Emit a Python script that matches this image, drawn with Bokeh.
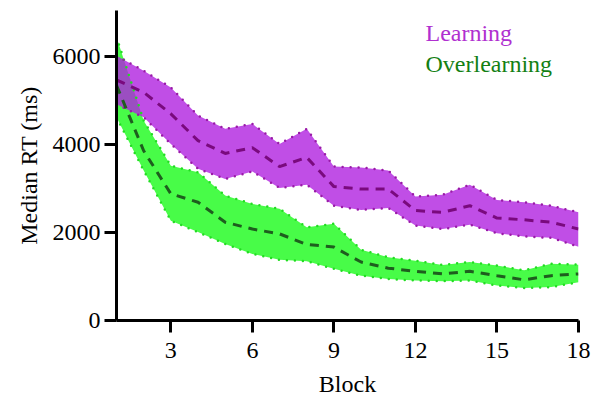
from bokeh.plotting import figure
from bokeh.models import Range1d, FixedTicker, Label, ColumnDataSource
from bokeh.embed import file_html
from bokeh.resources import INLINE

blocks = list(range(1, 19))

learn_mean = [5470, 5190, 4700, 4090, 3800, 3930, 3500, 3710, 3045, 2990, 2990, 2500, 2460, 2610, 2330, 2290, 2235, 2080]
learn_upper = [6020, 5680, 5300, 4660, 4360, 4470, 4015, 4360, 3500, 3480, 3410, 2820, 2860, 3090, 2740, 2690, 2610, 2460]
learn_lower = [4920, 4620, 4015, 3450, 3220, 3390, 3015, 3090, 2610, 2515, 2560, 2160, 2080, 2180, 1985, 1910, 1880, 1680]

over_mean = [5350, 3860, 2880, 2690, 2235, 2080, 1970, 1730, 1670, 1330, 1190, 1120, 1060, 1120, 1020, 925, 1020, 1060]
over_upper = [6450, 4545, 3520, 3370, 2840, 2650, 2540, 2120, 2200, 1610, 1440, 1360, 1265, 1330, 1250, 1140, 1290, 1270]
over_lower = [4620, 3410, 2270, 2010, 1740, 1515, 1380, 1350, 1175, 1020, 945, 910, 895, 910, 795, 740, 760, 870]

x_ticks = [3, 6, 9, 12, 15, 18]
y_ticks = [0, 2000, 4000, 6000]

FONT = "Liberation Serif"

src = ColumnDataSource(dict(x=blocks, lm=learn_mean, lu=learn_upper, ll=learn_lower,
                            om=over_mean, ou=over_upper, ol=over_lower))

p = figure(width=591, height=402, output_backend="svg", toolbar_location=None,
           x_range=Range1d(1, 18), y_range=Range1d(0, 7050),
           min_border_left=116, min_border_right=13, min_border_top=10, min_border_bottom=82)
p.outline_line_color = None
p.grid.visible = False
p.background_fill_color = "white"
p.border_fill_color = "white"

# Overlearning band (drawn first)
p.varea(x="x", y1="ol", y2="ou", source=src, fill_color="#48fc48", fill_alpha=1.0)
# Learning band on top, slightly transparent
p.varea(x="x", y1="ll", y2="lu", source=src, fill_color="#b022e0", fill_alpha=0.8)

# dotted edges
for col, color in (("ou", "#22dd22"), ("ol", "#22dd22")):
    p.line(x="x", y=col, source=src, line_color=color, line_width=2.5,
           line_dash="0 8", line_cap="round")
for col, color in (("lu", "#9a1aa8"), ("ll", "#9a1aa8")):
    p.line(x="x", y=col, source=src, line_color=color, line_width=2.5,
           line_dash="0 8", line_cap="round")

# dashed means
p.line(x="x", y="om", source=src, line_color="#1e5e1e", line_width=3, line_dash="9 7")
p.line(x="x", y="lm", source=src, line_color="#7a0a7e", line_width=3, line_dash="9 7")

# axes
for ax in (p.xaxis[0], p.yaxis[0]):
    ax.axis_line_width = 3
    ax.axis_line_color = "black"
    ax.major_tick_line_width = 3
    ax.major_tick_line_color = "black"
    ax.major_tick_out = 12
    ax.major_tick_in = 0
    ax.minor_tick_line_color = None
    ax.major_label_text_font = FONT
    ax.major_label_text_font_size = "24px"
    ax.major_label_text_color = "black"
    ax.axis_label_text_font = FONT
    ax.axis_label_text_font_size = "24px"
    ax.axis_label_text_font_style = "normal"
    ax.axis_label_text_color = "black"

p.xaxis.ticker = FixedTicker(ticks=x_ticks)
p.yaxis.ticker = FixedTicker(ticks=y_ticks)
p.xaxis.axis_label = "Block"
p.yaxis.axis_label = "Median RT (ms)"
p.xaxis.major_label_standoff = 10
p.yaxis.major_label_standoff = 4
p.xaxis.axis_label_standoff = 10
p.yaxis.axis_label_standoff = 8

p.add_layout(Label(x=12.37, y=6250, text="Learning", text_font=FONT,
                   text_font_size="24px", text_color="#b030d0"))
p.add_layout(Label(x=12.37, y=5530, text="Overlearning", text_font=FONT,
                   text_font_size="24px", text_color="#138013"))

open("out.html", "w").write(file_html(p, INLINE))
